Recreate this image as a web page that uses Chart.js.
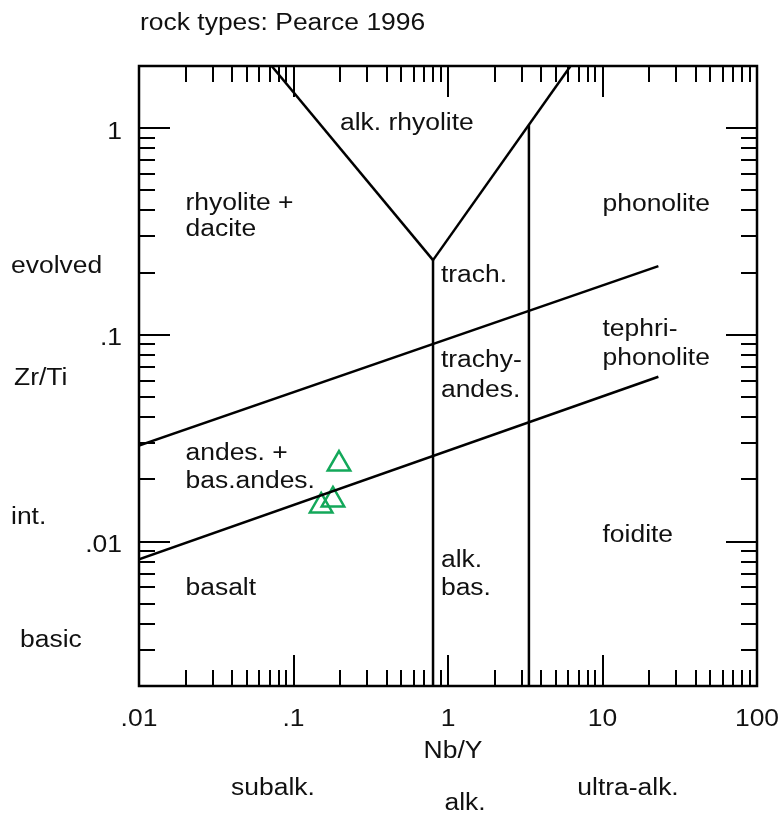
<!DOCTYPE html>
<html lang="en">
<head>
<meta charset="UTF-8">
<title>Pearce 1996</title>
<script src="https://cdn.jsdelivr.net/npm/chart.js@4.4.0/dist/chart.umd.min.js"></script>
<style>
  body { margin: 0; background: #fff; }
</style>
</head>
<body>
<canvas id="myChart" width="784" height="814"></canvas>

<script>
    // field boundaries (Nb/Y, Zr/Ti)
    const vLeft = [{x: 0.0722, y: 2}, {x: 0.80, y: 0.230}];
    const vRight = [{x: 0.80, y: 0.230}, {x: 6.21, y: 2}];
    const alkLine = [{x: 0.80, y: 0.230}, {x: 0.80, y: 0.002}];
    const ultraLine = [{x: 3.34, y: 1.04}, {x: 3.34, y: 0.002}];
    const upperLine = [{x: 0.01, y: 0.0291}, {x: 23, y: 0.215}];
    const lowerLine = [{x: 0.01, y: 0.0082}, {x: 23, y: 0.0627}];

    // samples
    const nbY = [0.197, 0.180, 0.151];
    const zrTi = [0.0237, 0.0159, 0.01487];

    const xTicks = [0.01, 0.1, 1, 10, 100];
    const xTickLabels = ['.01', '.1', '1', '10', '100'];
    const yTicks = [0.01, 0.1, 1];
    const yTickLabels = ['.01', '.1', '1'];

    // field names: [text, Nb/Y, Zr/Ti]
    const fieldLabels = [
        ['alk. rhyolite', 0.2, 1.08],
        ['rhyolite +', 0.02, 0.44],
        ['dacite', 0.02, 0.329],
        ['phonolite', 10, 0.435],
        ['trach.', 0.9, 0.197],
        ['tephri-', 10, 0.108],
        ['phonolite', 10, 0.0784],
        ['trachy-', 0.9, 0.0767],
        ['andes.', 0.9, 0.0551],
        ['andes. +', 0.02, 0.0272],
        ['bas.andes.', 0.02, 0.0199],
        ['foidite', 10, 0.0109],
        ['alk.', 0.9, 0.00829],
        ['bas.', 0.9, 0.00607],
        ['basalt', 0.02, 0.00607]
    ];

    const FONT = '23px "Liberation Sans", Arial, sans-serif';
    const STRETCH = 1.15; // the original text is a bit wider than Liberation Sans
    const DY = 2;         // middle baseline sits a little high

    function boundary(data) {
        return {
            type: 'line', data: data, borderColor: '#000', borderWidth: 2.5,
            pointRadius: 0, showLine: true, tension: 0, fill: false
        };
    }

    function text(ctx, str, x, y, align) {
        ctx.save();
        ctx.textAlign = align;
        ctx.translate(x, y + DY);
        ctx.scale(STRETCH, 1);
        ctx.fillText(str, 0, 0);
        ctx.restore();
    }

    const frame = {
        id: 'frame',
        afterDraw(chart) {
            const ctx = chart.ctx;
            const a = chart.chartArea;
            const xs = chart.scales.x, ys = chart.scales.y;
            ctx.save();
            ctx.strokeStyle = '#000';
            ctx.lineWidth = 2.5;
            ctx.strokeRect(a.left, a.top, a.right - a.left, a.bottom - a.top);

            ctx.lineWidth = 2;
            ctx.beginPath();
            // x ticks top and bottom
            for (let d = 0.01; d < 100; d *= 10) {
                for (let m = 1; m <= 9; m++) {
                    const v = d * m;
                    if (v <= 0.01) continue;
                    const px = Math.round(xs.getPixelForValue(v));
                    const len = m === 1 ? 31 : 16;
                    ctx.moveTo(px, a.bottom); ctx.lineTo(px, a.bottom - len);
                    ctx.moveTo(px, a.top); ctx.lineTo(px, a.top + len);
                }
            }
            // y ticks left and right
            for (let d = 0.001; d < 2; d *= 10) {
                for (let m = 1; m <= 9; m++) {
                    const v = d * m;
                    if (v <= 0.002 || v >= 2) continue;
                    const py = Math.round(ys.getPixelForValue(v));
                    const len = m === 1 ? 31 : 16;
                    ctx.moveTo(a.left, py); ctx.lineTo(a.left + len, py);
                    ctx.moveTo(a.right, py); ctx.lineTo(a.right - len, py);
                }
            }
            ctx.stroke();

            ctx.fillStyle = '#111';
            ctx.font = FONT;
            ctx.textBaseline = 'middle';

            xTicks.forEach((v, i) => text(ctx, xTickLabels[i], xs.getPixelForValue(v), 718, 'center'));
            yTicks.forEach((v, i) => text(ctx, yTickLabels[i], 122, ys.getPixelForValue(v) + 2, 'right'));

            text(ctx, 'rock types: Pearce 1996', 140, 22, 'left');
            text(ctx, 'evolved', 11, 265, 'left');
            text(ctx, 'Zr/Ti', 14, 377, 'left');
            text(ctx, 'int.', 11, 516, 'left');
            text(ctx, 'basic', 20, 639, 'left');

            text(ctx, 'Nb/Y', 453, 750, 'center');
            text(ctx, 'subalk.', 273, 787, 'center');
            text(ctx, 'alk.', 465, 802, 'center');
            text(ctx, 'ultra-alk.', 628, 787, 'center');

            fieldLabels.forEach(l => {
                text(ctx, l[0], xs.getPixelForValue(l[1]), ys.getPixelForValue(l[2]), 'left');
            });
            ctx.restore();
        }
    };

    const myChart = document.getElementById('myChart').getContext('2d');
    new Chart(myChart, {
        type: 'scatter',
        data: {
            datasets: [
                boundary(vLeft), boundary(vRight), boundary(alkLine),
                boundary(ultraLine), boundary(upperLine), boundary(lowerLine),
                {
                    data: nbY.map((v, i) => ({x: v, y: zrTi[i]})),
                    pointStyle: 'triangle', pointRadius: 13, pointHoverRadius: 13,
                    borderColor: '#13a85a', borderWidth: 2.5,
                    backgroundColor: 'rgba(0,0,0,0)'
                }
            ]
        },
        options: {
            responsive: false,
            animation: false,
            layout: {padding: {left: 139, right: 27, top: 66, bottom: 128}},
            plugins: {legend: {display: false}, tooltip: {enabled: false}},
            scales: {
                x: {type: 'logarithmic', min: 0.01, max: 100, display: false},
                y: {type: 'logarithmic', min: 0.002, max: 2, display: false}
            }
        },
        plugins: [frame]
    });
</script>
</body>
</html>
